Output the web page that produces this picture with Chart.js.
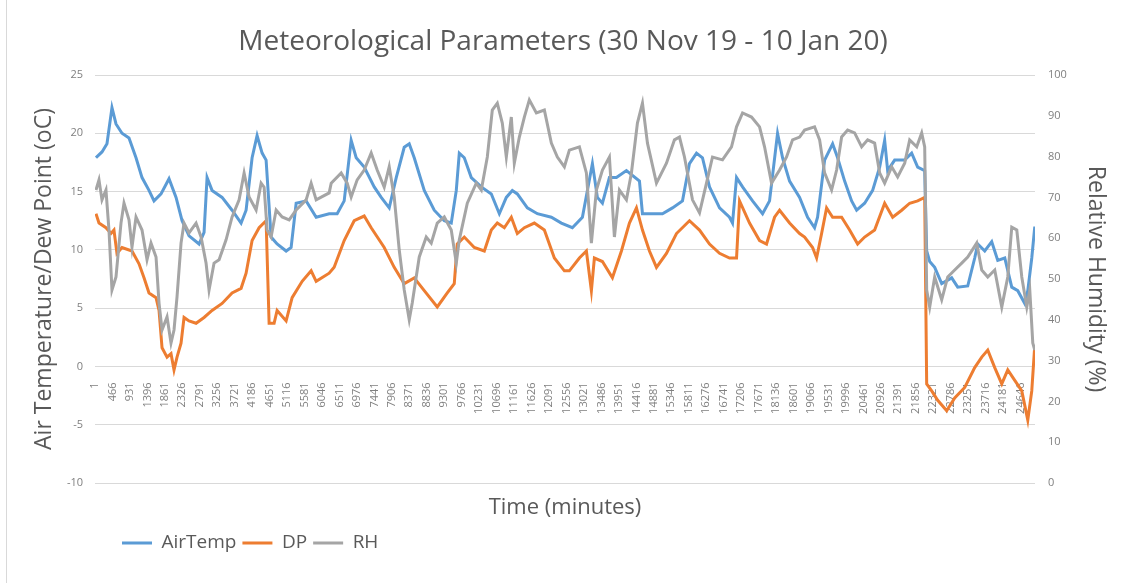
<!DOCTYPE html>
<html>
<head>
<meta charset="utf-8">
<script src="https://cdn.jsdelivr.net/npm/chart.js@4.4.0/dist/chart.umd.min.js"></script>
<style>
html,body{margin:0;padding:0;background:#fff;}
#wrap{width:1121px;height:583px;position:relative;}
</style>
</head>
<body>
<div id="wrap"><canvas id="c" width="1121" height="583"></canvas></div>
<script>
const tickLabels = [1,466,931,1396,1861,2326,2791,3256,3721,4186,4651,5116,5581,6046,6511,6976,7441,7906,8371,8836,9301,9766,10231,10696,11161,11626,12091,12556,13021,13486,13951,14416,14881,15346,15811,16276,16741,17206,17671,18136,18601,19066,19531,19996,20461,20926,21391,21856,22321,22786,23251,23716,24181,24646];

const airTempMinutes = [27,187,320,453,560,720,906,1093,1253,1439,1572,1759,1972,2159,2319,2505,2772,2905,2985,3118,3385,3651,3891,4024,4184,4317,4451,4557,4690,4850,5090,5223,5357,5623,5890,6236,6449,6636,6822,6956,7169,7435,7622,7835,8022,8235,8368,8501,8768,9034,9301,9487,9621,9701,9834,10020,10287,10553,10767,10953,11113,11246,11513,11779,12152,12419,12712,12979,13112,13245,13378,13512,13698,13885,14151,14498,14578,14844,15111,15377,15644,15830,16017,16176,16363,16630,16896,16976,17083,17243,17509,17776,17962,18175,18309,18495,18762,18975,19161,19241,19428,19641,19774,19961,20147,20281,20494,20707,20894,21027,21107,21293,21560,21746,21906,22093,22146,22226,22359,22546,22812,22972,23239,23425,23505,23692,23878,24038,24225,24411,24571,24758,24838,24944,25024];
const airTempValues = [17.9,18.4,19.1,22.2,20.8,20.0,19.6,17.9,16.2,15.1,14.2,14.8,16.1,14.5,12.5,11.2,10.5,11.5,16.2,15.1,14.5,13.4,12.3,13.4,17.9,19.8,18.3,17.7,11.1,10.5,9.9,10.2,14.0,14.2,12.8,13.1,13.1,14.2,19.4,17.9,17.1,15.4,14.5,13.6,16.2,18.8,19.1,17.9,15.1,13.4,12.5,12.3,15.1,18.3,17.9,16.2,15.4,14.8,13.1,14.5,15.1,14.8,13.6,13.1,12.8,12.3,11.9,12.8,15.1,17.4,14.5,14.0,16.2,16.2,16.8,15.9,13.1,13.1,13.1,13.6,14.2,17.4,18.3,17.9,15.4,13.6,12.8,12.3,16.2,15.4,14.2,13.1,14.2,20.0,17.9,15.9,14.5,12.8,11.9,12.8,17.7,19.1,17.9,15.9,14.2,13.4,14.0,15.1,17.1,19.4,16.8,17.7,17.7,18.3,17.1,16.8,9.9,9.0,8.5,7.1,7.6,6.8,6.9,9.3,10.5,9.9,10.7,9.1,9.3,6.8,6.5,5.4,6.5,9.3,12.0];

const dewPointMinutes = [27,107,293,426,506,586,720,986,1173,1306,1439,1626,1706,1786,1919,2025,2105,2185,2292,2372,2505,2692,2905,3118,3385,3651,3891,4024,4184,4371,4557,4637,4770,4850,5090,5250,5517,5756,5890,6236,6369,6636,6902,7169,7355,7702,7968,8235,8501,8768,9114,9381,9567,9647,9834,10100,10367,10553,10713,10900,11086,11246,11433,11699,11966,12232,12499,12632,12899,13085,13218,13298,13512,13778,14018,14231,14418,14578,14764,14951,15217,15484,15830,16097,16363,16630,16896,17083,17163,17429,17696,17882,18095,18229,18495,18762,18895,19108,19215,19348,19481,19641,19881,20094,20307,20494,20760,21027,21240,21480,21693,21906,22093,22146,22279,22439,22679,22892,23159,23425,23612,23772,23958,24145,24305,24491,24678,24838,24944,25024];
const dewPointValues = [13.1,12.3,11.9,11.4,11.7,9.7,10.2,9.9,8.8,7.6,6.3,5.9,4.8,1.6,0.8,1.1,-0.3,0.8,2.0,4.2,3.9,3.7,4.2,4.8,5.4,6.3,6.7,8.0,10.8,11.9,12.5,3.7,3.7,4.8,3.9,5.9,7.3,8.2,7.3,8.0,8.5,10.8,12.5,12.9,11.9,10.2,8.5,7.1,7.6,6.5,5.1,6.3,7.1,10.5,11.1,10.2,9.9,11.7,12.3,11.9,12.8,11.4,11.9,12.3,11.7,9.3,8.2,8.2,9.3,9.9,6.5,9.3,9.0,7.6,9.9,12.3,13.6,11.7,9.9,8.5,9.7,11.4,12.5,11.7,10.5,9.7,9.3,9.3,14.2,12.3,10.8,10.5,12.8,13.4,12.3,11.4,11.1,10.2,9.3,11.4,13.6,12.8,12.8,11.7,10.5,11.1,11.7,14.0,12.8,13.4,14.0,14.2,14.5,-1.5,-2.1,-2.9,-3.8,-2.7,-1.8,-0.1,0.8,1.4,-0.1,-1.5,-0.3,-1.2,-2.1,-4.6,-2.1,1.8];

const humidityMinutes = [27,107,187,293,373,453,560,693,773,906,986,1093,1253,1386,1492,1626,1706,1786,1919,2025,2105,2185,2292,2372,2505,2692,2825,2958,3038,3171,3305,3491,3651,3838,3971,4104,4291,4424,4504,4584,4690,4824,4984,5170,5357,5623,5756,5890,6236,6290,6556,6716,6822,6982,7169,7355,7515,7702,7835,7968,8102,8235,8368,8448,8635,8821,8954,9114,9301,9487,9621,9701,9914,10153,10287,10447,10580,10713,10846,10953,11086,11166,11300,11433,11566,11753,11966,12152,12312,12499,12632,12899,13085,13218,13352,13512,13698,13831,13965,14151,14284,14444,14578,14711,14951,15217,15430,15564,15697,15910,16097,16283,16443,16709,16949,17083,17243,17482,17696,17829,18015,18229,18415,18575,18762,18895,19161,19295,19428,19614,19748,19881,20041,20227,20414,20574,20760,20894,21027,21213,21373,21560,21693,21880,22013,22093,22146,22226,22359,22546,22706,22892,23079,23239,23478,23612,23772,23958,24145,24305,24411,24545,24678,24811,24891,24971,25024];
const humidityValues = [71.8,74.3,69.4,71.8,62.0,47.3,50.5,63.7,68.6,64.5,57.8,65.2,62.0,54.7,58.8,55.4,44.1,37.5,40.7,34.3,37.5,45.6,58.8,63.7,61.3,63.7,60.3,53.9,47.3,53.9,54.7,59.6,65.2,69.4,76.0,70.1,66.9,73.5,72.5,62.0,60.3,66.9,65.2,64.5,66.9,69.4,73.5,69.4,71.1,73.5,76.0,73.5,70.1,74.3,76.7,80.9,76.7,72.5,77.5,70.1,57.1,47.3,40.0,44.1,55.4,60.3,58.8,63.7,65.2,62.0,53.9,59.6,68.6,73.5,71.8,79.9,91.4,93.1,88.2,79.9,89.7,78.4,84.8,89.7,93.9,90.7,91.4,83.3,79.9,77.5,81.6,82.4,76.0,58.8,71.8,76.7,79.9,60.3,71.8,69.4,76.0,88.2,93.1,83.3,73.5,78.4,84.1,84.8,79.9,69.4,66.2,73.5,79.9,79.2,82.4,87.3,90.7,89.7,87.3,82.4,73.5,76.7,79.9,84.1,84.8,86.5,87.3,84.1,76.0,71.8,76.7,84.8,86.5,85.8,82.4,84.1,83.3,76.0,73.5,77.5,75.0,78.4,84.1,82.4,85.8,82.4,47.3,43.1,50.5,44.9,50.5,52.2,53.9,55.4,58.8,52.2,50.5,52.2,43.1,50.5,62.7,62.0,50.5,43.1,47.3,34.3,32.6];

const toPoints = (xs, ys) => xs.map((x, i) => ({x: x, y: ys[i]}));
const FONT = "'Open Sans', sans-serif";
const TEXT = '#595959';
const TICK = '#7f7f7f';

const framePlugin = {
  id: 'frame',
  beforeDraw(chart) {
    const ctx = chart.ctx;
    ctx.save();
    ctx.fillStyle = '#ffffff';
    ctx.fillRect(0, 0, chart.width, chart.height);
    ctx.strokeStyle = '#d9d9d9';
    ctx.lineWidth = 1;
    ctx.strokeRect(6.5, -2, 1200, 600);
    ctx.restore();
  }
};
const legendShift = {
  id: 'legendShift',
  afterLayout(chart) { if (chart.legend) { chart.legend.left += 21; } }
};

new Chart(document.getElementById('c'), {
  type: 'line',
  data: {
    datasets: [
      {label: 'AirTemp', data: toPoints(airTempMinutes, airTempValues), borderColor: '#5B9BD5', backgroundColor: '#5B9BD5', pointBorderColor: '#5B9BD5', borderWidth: 3, pointBorderWidth: 3, yAxisID: 'y', xAxisID: 'x', order: 2},
      {label: 'DP', data: toPoints(dewPointMinutes, dewPointValues), borderColor: '#ED7D31', backgroundColor: '#ED7D31', pointBorderColor: '#ED7D31', borderWidth: 3, pointBorderWidth: 3, yAxisID: 'y', xAxisID: 'x', order: 1},
      {label: 'RH', data: toPoints(humidityMinutes, humidityValues), borderColor: '#A5A5A5', backgroundColor: '#A5A5A5', pointBorderColor: '#A5A5A5', borderWidth: 3, pointBorderWidth: 3, yAxisID: 'y1', xAxisID: 'x', order: 0}
    ]
  },
  options: {
    responsive: false,
    animation: false,
    devicePixelRatio: 1,
    layout: {padding: {left: 10, right: 5, top: 5, bottom: 20.5}},
    elements: {point: {radius: 0, hoverRadius: 0}, line: {tension: 0}},
    plugins: {
      title: {display: true, text: 'Meteorological Parameters (30 Nov 19 - 10 Jan 20)', color: TEXT, font: {family: FONT, size: 28, weight: 'normal'}, padding: {top: 20, bottom: 16.4}},
      legend: {display: true, position: 'bottom', align: 'start', fullSize: false,
        labels: {usePointStyle: true, pointStyle: 'line', pointStyleWidth: 30, color: TEXT, font: {family: FONT, size: 19}, padding: 6,
          sort: (a, b) => a.datasetIndex - b.datasetIndex}},
      tooltip: {enabled: false}
    },
    scales: {
      x: {type: 'linear', position: {y: 0}, min: 1, max: 25030,
        grid: {display: false}, border: {display: false},
        afterBuildTicks: s => { s.ticks = tickLabels.map(v => ({value: v})); },
        ticks: {autoSkip: false, minRotation: 90, maxRotation: 90, padding: 8, color: TICK, font: {family: FONT, size: 11}, callback: v => String(v)}},
      xt: {type: 'linear', position: 'bottom', display: true, grid: {display: false, drawTicks: false}, border: {display: false},
        ticks: {display: false},
        title: {display: true, text: 'Time (minutes)', color: TEXT, font: {family: FONT, size: 22}, padding: {top: 11.3, bottom: 6.8}}},
      y: {position: 'left', min: -10, max: 25,
        ticks: {stepSize: 5, padding: 12, color: TICK, font: {family: FONT, size: 11}},
        grid: {color: '#d9d9d9', drawTicks: false}, border: {display: false},
        title: {display: true, text: 'Air Temperature/Dew Point (oC)', color: TEXT, font: {family: FONT, size: 23}, padding: {top: 21, bottom: 0}},
        afterFit: s => { s.width = 85; }},
      y1: {position: 'right', min: 0, max: 100,
        ticks: {stepSize: 10, padding: 13, color: TICK, font: {family: FONT, size: 11}},
        grid: {display: false, drawTicks: false}, border: {display: false},
        title: {display: true, text: 'Relative Humidity (%)', color: TEXT, font: {family: FONT, size: 23}, padding: {top: 7, bottom: 0}},
        afterFit: s => { s.width = 81; }}
    }
  },
  plugins: [framePlugin, legendShift]
});
</script>
</body>
</html>
